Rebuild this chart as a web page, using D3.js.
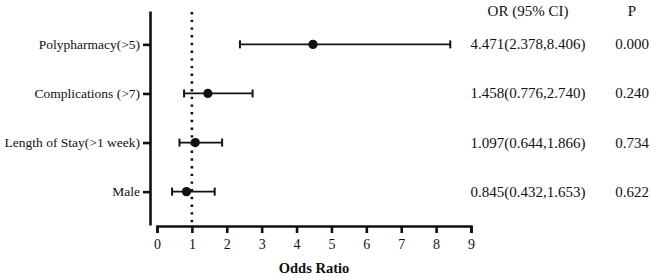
<!DOCTYPE html>
<html>
<head>
<meta charset="utf-8">
<script src="https://cdn.jsdelivr.net/npm/d3@7"></script>
</head>
<body style="margin:0">
<script>
var width = 652
var height = 280
var serif = "Liberation Serif"

// data
var labels = ["Polypharmacy(>5)", "Complications (>7)", "Length of Stay(>1 week)", "Male"]
var oddsRatio = [4.471, 1.458, 1.097, 0.845]
var lower = [2.378, 0.776, 0.644, 0.432]
var upper = [8.406, 2.740, 1.866, 1.653]
var pValues = ["0.000", "0.240", "0.734", "0.622"]
var xTicks = [0, 1, 2, 3, 4, 5, 6, 7, 8, 9]

var rows = labels.map(function (d, i) {
    return { label: d, or: oddsRatio[i], lo: lower[i], hi: upper[i], p: pValues[i] }
})

var svg = d3.select("body")
    .append("svg")
    .attr("width", width)
    .attr("height", height)
    .style("font-family", "'" + serif + "'");

var x_scale = d3.scaleLinear()
    .domain([0, 9])
    .range([157, 471]);

var y_scale = d3.scalePoint()
    .domain(labels)
    .range([11, 225])
    .padding(0.68);

// y axis
var yAxis = svg.append("g")
    .attr("transform", "translate(150,0)")
    .call(d3.axisLeft(y_scale).tickSizeOuter(0).tickSizeInner(7).tickPadding(3))
    .attr("font-family", serif)
    .attr("font-size", 13.5)
yAxis.select(".domain").attr("stroke", "#111").attr("stroke-width", 2.6)
yAxis.selectAll(".tick line").attr("stroke", "#111").attr("stroke-width", 2.6)
yAxis.selectAll(".tick text").attr("fill", "#111")

// x axis
var xAxis = svg.append("g")
    .attr("transform", "translate(0,226)")
    .call(d3.axisBottom(x_scale).tickValues(xTicks).tickSizeOuter(7).tickSizeInner(7).tickPadding(6))
    .attr("font-family", serif)
    .attr("font-size", 14)
xAxis.select(".domain").attr("stroke", "#111").attr("stroke-width", 2.6)
xAxis.selectAll(".tick line").attr("stroke", "#111").attr("stroke-width", 2.6)
xAxis.selectAll(".tick text").attr("fill", "#111")

svg.append("text")
    .attr("x", (x_scale(0) + x_scale(9)) / 2)
    .attr("y", 273)
    .attr("text-anchor", "middle")
    .attr("font-family", serif)
    .attr("font-size", 14.5)
    .attr("font-weight", "bold")
    .attr("fill", "#111")
    .text("Odds Ratio")

// reference line at OR = 1
svg.append("line")
    .attr("x1", x_scale(1)).attr("x2", x_scale(1))
    .attr("y1", 12).attr("y2", 225)
    .attr("stroke", "#111")
    .attr("stroke-width", 2.6)
    .attr("stroke-dasharray", "2.4,5.3")

// error bars
var bars = svg.selectAll(".row")
    .data(rows)
    .enter()
    .append("g")
    .attr("class", "row")
    .attr("font-family", serif)
    .attr("font-size", 15)

bars.append("line")
    .attr("x1", (d) => x_scale(d.lo))
    .attr("x2", (d) => x_scale(d.hi))
    .attr("y1", (d) => y_scale(d.label))
    .attr("y2", (d) => y_scale(d.label))
    .attr("stroke", "#111")
    .attr("stroke-width", 1.8)

bars.selectAll(".cap")
    .data((d) => [d.lo, d.hi].map((v) => ({ v: v, y: y_scale(d.label) })))
    .enter()
    .append("line")
    .attr("x1", (c) => x_scale(c.v))
    .attr("x2", (c) => x_scale(c.v))
    .attr("y1", (c) => c.y - 4)
    .attr("y2", (c) => c.y + 4)
    .attr("stroke", "#111")
    .attr("stroke-width", 2)

bars.append("circle")
    .attr("cx", (d) => x_scale(d.or))
    .attr("cy", (d) => y_scale(d.label))
    .attr("r", 4.6)
    .attr("fill", "#111")

// table on the right
svg.append("text")
    .attr("x", 528).attr("y", 16)
    .attr("text-anchor", "middle")
    .attr("font-family", serif)
    .attr("font-size", 15)
    .attr("fill", "#111")
    .text("OR (95% CI)")

svg.append("text")
    .attr("x", 632).attr("y", 16)
    .attr("text-anchor", "middle")
    .attr("font-family", serif)
    .attr("font-size", 15)
    .attr("fill", "#111")
    .text("P")

bars.append("text")
    .attr("x", 528)
    .attr("y", (d) => y_scale(d.label) + 5)
    .attr("text-anchor", "middle")
    .attr("fill", "#111")
    .text((d) => d3.format(".3f")(d.or) + "(" + d3.format(".3f")(d.lo) + "," + d3.format(".3f")(d.hi) + ")")

bars.append("text")
    .attr("x", 632)
    .attr("y", (d) => y_scale(d.label) + 5)
    .attr("text-anchor", "middle")
    .attr("fill", "#111")
    .text((d) => d.p)
</script>
</body>
</html>
